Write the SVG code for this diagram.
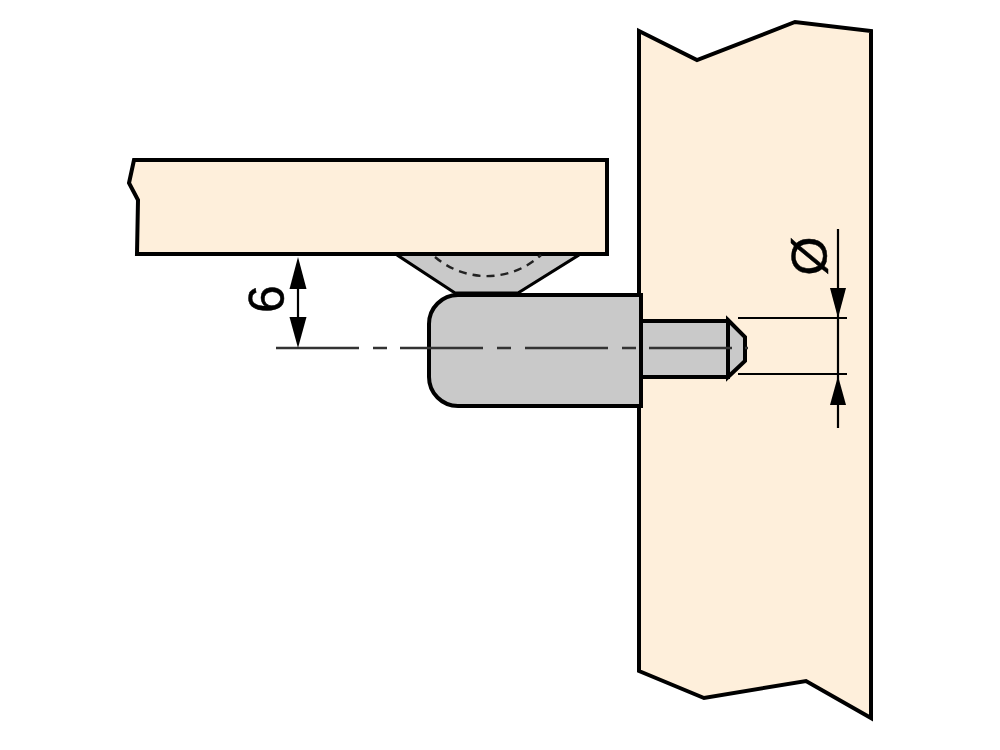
<svg xmlns="http://www.w3.org/2000/svg" width="1000" height="750" viewBox="0 0 1000 750">
<style>
.wood{fill:#feefdb;stroke:#000;stroke-width:4;stroke-linejoin:miter}
.part{fill:#c9c9c9;stroke:#000;stroke-width:4;stroke-linejoin:miter}
.dim{fill:none;stroke:#000;stroke-width:2.2}
.center{fill:none;stroke:#333;stroke-width:2.4}
.arrow{fill:#000;stroke:none}
.label{font-family:"Liberation Sans",Arial,sans-serif;fill:#000;stroke:#000;stroke-width:0.5;text-anchor:middle}
</style>
<rect width="1000" height="750" fill="#fff"/>
<g id="panel"><polygon class="wood" points="639,31 697,60 795,22 871,31 871,718 806,681 704,698 639,671"/></g>
<g id="shelf"><polygon class="wood" points="134,160 607,160 607,254 137,254 138,200 129,183"/></g>
<g id="bracket">
<polygon fill="#c9c9c9" points="397,256 579,256 518,293 455,293"/>
<path d="M397,255 L455,293 H518 L579,255" fill="none" stroke="#000" stroke-width="3.2"/>
<path d="M435,257 A80,80 0 0 0 541,255" fill="none" stroke="#222" stroke-width="2.4" stroke-dasharray="8 6"/>
</g>
<g id="pin">
<rect class="part" x="641" y="321" width="87" height="56"/>
<polygon class="part" points="728,320 745,337 745,361 728,377"/>
</g>
<g id="barrel">
<path class="part" d="M641,295 H458 A29,29 0 0 0 429,324 V377 A29,29 0 0 0 458,406 H641 Z"/>
</g>
<g id="connectors">
<path class="center" d="M276,348 H359 M373,348 H387 M400,348 H483 M497,348 H511 M525,348 H608 M622,348 H636 M649,348 H732 M745,348 H748"/>
<path class="dim" d="M298,288 V320 M838,229 V428 M738,318 H847 M738,374 H847"/>
<polygon class="arrow" points="298,257 306.500,289 289.500,289"/>
<polygon class="arrow" points="298,348 306.500,317 289.500,317"/>
<polygon class="arrow" points="838,318 830,288 846,288"/>
<polygon class="arrow" points="838,376 830,405 846,405"/>
</g>
<g id="labels">
<text class="label" font-size="50" transform="translate(284,299) rotate(-90)">6</text>
<text class="label" font-size="50" transform="translate(827,256) rotate(-90)">Ø</text>
</g>
</svg>
